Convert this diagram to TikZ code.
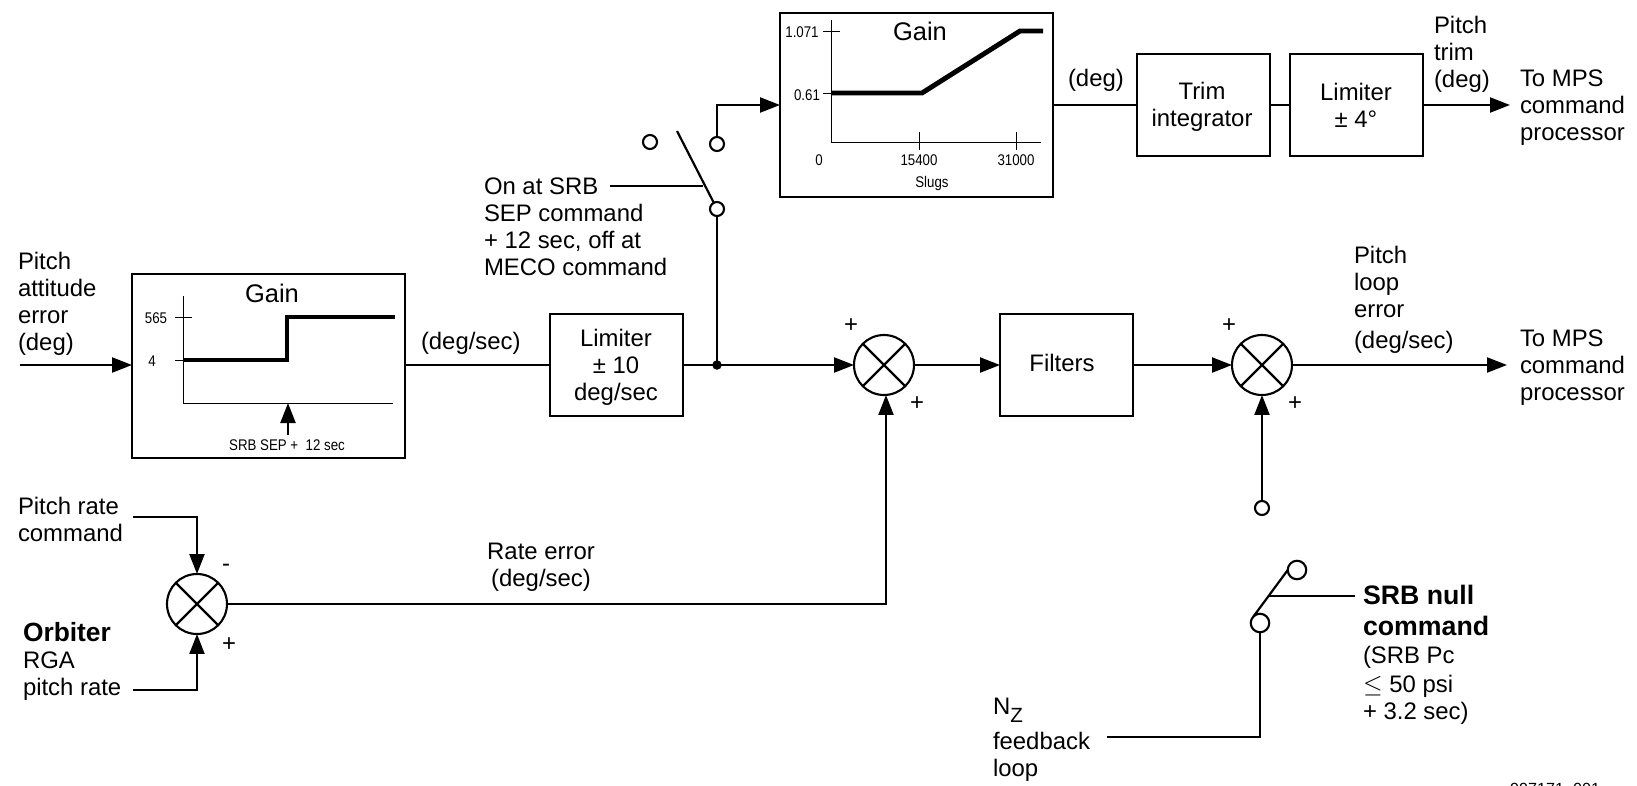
\documentclass[tikz,border=0pt]{standalone}
\usepackage{fontspec}
\setmainfont{Liberation Sans}
\newfontfamily\narrowfont[FakeStretch=0.86]{Liberation Sans}
\usetikzlibrary{arrows.meta}

\tikzset{
plain/.style={inner sep=0pt, outer sep=0pt, align=left},
small/.style={plain, font=\narrowfont\fontsize{8.8}{10}\selectfont},
block/.style={draw, line width=0.7pt, inner sep=0pt, outer sep=0pt, align=center},
sumnode/.style={draw, circle, line width=1.2pt, inner sep=0pt, outer sep=0pt, minimum size=1.2cm},
contact/.style={draw, circle, line width=1.2pt, inner sep=0pt, outer sep=0pt, minimum size=0.28cm},
wire/.style={line width=1.25pt},
flow/.style={wire, -{Triangle[length=0.4cm,width=0.3cm]}},
thin axis/.style={line width=0.5pt},
curve/.style={line width=2.8pt, line join=miter}
}

\begin{document}
\begin{tikzpicture}[x=0.02cm,y=-0.02cm,font=\fontsize{13.6}{15.4}\selectfont]

\useasboundingbox (0,0) rectangle (1637,785);

%%%%%%%%%%%%%%%%%%%%%%%%%%%%%%%%%%%%%%%%%%%%%%%%%%%%%%
% PITCH GAIN BLOCK
%%%%%%%%%%%%%%%%%%%%%%%%%%%%%%%%%%%%%%%%%%%%%%%%%%%%%%

\node[
block,
minimum width=5.46cm,
minimum height=3.68cm
](gainpitch)
at (268.5,366)
{};

\node[plain,font=\fontsize{14.5}{16}\selectfont](gainpitchtitle) at (272,293) {Gain};
\node[small](tickhigh) at (156,318) {565};
\node[small](ticklow) at (152,361) {4};
\node[small](sepnote) at (287,445) {SRB SEP +\ \ 12 sec};

\draw[thin axis] (183,296)--(183,403)--(393,403);
\draw[thin axis] (175,317)--(192,317);
\draw[thin axis] (175,360)--(183,360);
\draw[curve] (183,360)--(287,360)--(287,317)--(395,317);

\coordinate (septail) at (288,435);
\coordinate (sephead) at (288,403);
\draw[flow] (septail)--(sephead);

%%%%%%%%%%%%%%%%%%%%%%%%%%%%%%%%%%%%%%%%%%%%%%%%%%%%%%
% TRIM GAIN BLOCK
%%%%%%%%%%%%%%%%%%%%%%%%%%%%%%%%%%%%%%%%%%%%%%%%%%%%%%

\node[
block,
minimum width=5.46cm,
minimum height=3.68cm
](gaintrim)
at (916.5,105)
{};

\node[plain,font=\fontsize{14.5}{16}\selectfont](gaintrimtitle) at (920,31) {Gain};
\node[small](tickone) at (802,32) {1.071};
\node[small](ticktwo) at (807,95) {0.61};
\node[small](tickzero) at (819,160) {0};
\node[small](tickmid) at (919,160) {15400};
\node[small](tickend) at (1016,160) {31000};
\node[small](slugs) at (932,183) {Slugs};

\draw[thin axis] (831,20)--(831,142)--(1041,142);
\draw[thin axis] (823,31)--(840,31);
\draw[thin axis] (823,93)--(831,93);
\draw[thin axis] (919,132)--(919,150);
\draw[thin axis] (1016,132)--(1016,150);
\draw[curve] (831,93)--(922,93)--(1020,31)--(1043,31);

%%%%%%%%%%%%%%%%%%%%%%%%%%%%%%%%%%%%%%%%%%%%%%%%%%%%%%
% BLOCKS
%%%%%%%%%%%%%%%%%%%%%%%%%%%%%%%%%%%%%%%%%%%%%%%%%%%%%%

\node[
block,
minimum width=2.66cm,
minimum height=2.04cm
](limiter)
at (616.5,365)
{};

\node[plain,align=center](limitertext) at (616,367) {Limiter\\± 10\\deg/sec};

\node[
block,
minimum width=2.66cm,
minimum height=2.04cm
](filters)
at (1066.5,365)
{};

\node[plain](filterstext) at (1062,363) {Filters};

\node[
block,
minimum width=2.66cm,
minimum height=2.04cm
](trim)
at (1203.5,105)
{};

\node[plain,align=center](trimtext) at (1202,107) {Trim\\integrator};

\node[
block,
minimum width=2.66cm,
minimum height=2.04cm
](limtrim)
at (1356.5,105)
{};

\node[plain,align=center](limtrimtext) at (1356,105) {Limiter\\± 4°};

%%%%%%%%%%%%%%%%%%%%%%%%%%%%%%%%%%%%%%%%%%%%%%%%%%%%%%
% SUMMING JUNCTIONS
%%%%%%%%%%%%%%%%%%%%%%%%%%%%%%%%%%%%%%%%%%%%%%%%%%%%%%

\node[sumnode](sumrate) at (197,604) {};
\node[sumnode](sumloop) at (884,365) {};
\node[sumnode](sumout) at (1262,365) {};

\foreach \s in {sumrate,sumloop,sumout}{
\draw[wire] (\s.north east)--(\s.south west);
\draw[wire] (\s.north west)--(\s.south east);
}

\node[plain](minusrate) at (226,568) {-};
\node[plain](plusrate) at (229,645) {+};
\node[plain](plusloopa) at (851,326) {+};
\node[plain](plusloopb) at (917,404) {+};
\node[plain](plusouta) at (1229,326) {+};
\node[plain](plusoutb) at (1295,404) {+};

%%%%%%%%%%%%%%%%%%%%%%%%%%%%%%%%%%%%%%%%%%%%%%%%%%%%%%
% SWITCHES
%%%%%%%%%%%%%%%%%%%%%%%%%%%%%%%%%%%%%%%%%%%%%%%%%%%%%%

\node[contact](swopen) at (650,142) {};
\node[contact](swclosed) at (717,144) {};
\node[contact](swpivot) at (717,209) {};
\node[fill,circle,inner sep=0pt,minimum size=0.19cm](branch) at (717,365) {};

\coordinate (bladetop) at (677,131);
\draw[wire] (bladetop)--(swpivot);

\node[contact,minimum size=0.37cm](nullupper) at (1297,570) {};
\node[contact,minimum size=0.37cm](nullpivot) at (1260,623) {};
\node[contact](trimend) at (1262,508) {};

\draw[wire] (nullpivot.135)--(nullupper.180);

%%%%%%%%%%%%%%%%%%%%%%%%%%%%%%%%%%%%%%%%%%%%%%%%%%%%%%
% LABELS
%%%%%%%%%%%%%%%%%%%%%%%%%%%%%%%%%%%%%%%%%%%%%%%%%%%%%%

\node[plain,anchor=west](attitude) at (18,304) {Pitch\\attitude\\error\\(deg)};
\node[plain,anchor=west](degsecgain) at (421,343) {(deg/sec)};
\node[plain,anchor=west](swnote) at (484,227) {On at SRB\\SEP command\\+ 12 sec, off at\\MECO command};
\node[plain,anchor=west](degtop) at (1068,80) {(deg)};
\node[plain,anchor=west](pitchtrim) at (1434,54) {Pitch\\trim\\(deg)};
\node[plain,anchor=west](mpstop) at (1520,108) {To MPS\\command\\processor};
\node[plain,anchor=west](looperror) at (1354,282) {Pitch\\loop\\error};
\node[plain,anchor=west](degsecloop) at (1354,342) {(deg/sec)};
\node[plain,anchor=west](mpslow) at (1520,368) {To MPS\\command\\processor};
\node[plain,anchor=west](ratecmd) at (18,519) {Pitch rate\\command};
\node[plain,anchor=west](orbiter) at (23,661.5) {{\bfseries\fontsize{15}{15.4}\selectfont Orbiter}\\RGA\\pitch rate};
\node[plain,align=center](rateerror) at (541,567) {Rate error\\(deg/sec)};
\node[plain,anchor=west](nullcmd) at (1363,655) {{\bfseries\fontsize{15.2}{17}\selectfont SRB null}\\[2pt]{\bfseries\fontsize{15.2}{17}\selectfont command}\\[1pt](SRB Pc\\[1pt]$\leq$ 50 psi\\+ 3.2 sec)};
\node[plain,anchor=west](nzloop) at (993,740) {N\raisebox{-4.5pt}{\fontsize{11.7}{12}\selectfont Z}\\[4.5pt]feedback\\loop};
\node[plain,anchor=north east,font=\fontsize{9.2}{10}\selectfont](drawingid) at (1600,783) {997171\_001};

%%%%%%%%%%%%%%%%%%%%%%%%%%%%%%%%%%%%%%%%%%%%%%%%%%%%%%
% LINES
%%%%%%%%%%%%%%%%%%%%%%%%%%%%%%%%%%%%%%%%%%%%%%%%%%%%%%

\coordinate (attitudein) at (20,365);
\coordinate (trimout) at (1510,105);
\coordinate (loopout) at (1507,365);
\coordinate (swlever) at (703,186);
\coordinate (swleverend) at (610,186);

\draw[flow] (attitudein)--(attitudein-|gainpitch.west);
\draw[wire] (limiter.west-|gainpitch.east)--(limiter.west);
\draw[flow] (limiter.east)--(sumloop.west);
\draw[flow] (sumloop.east)--(filters.west);
\draw[flow] (filters.east)--(sumout.west);
\draw[flow] (sumout.east)--(loopout);
\draw[wire] (branch.center)--(swpivot);
\draw[flow] (swclosed.north)|-(gaintrim.west);
\draw[wire] (swleverend)--(swlever);
\draw[wire] (gaintrim.east)--(trim.west);
\draw[wire] (trim.east)--(limtrim.west);
\draw[flow] (limtrim.east)--(trimout);
\draw[flow] (trimend)--(sumout.south);
\draw[flow] (sumrate.east)-|([xshift=0.04cm]sumloop.south);

\coordinate (ratecmdend) at (133,517);
\coordinate (rgaend) at (133,690);
\draw[flow] (ratecmdend)-|(sumrate.north);
\draw[flow] (rgaend)-|(sumrate.south);

\coordinate (nullend) at (1355,596);
\coordinate (nullbranch) at (1268,596);
\coordinate (nzend) at (1107,737);
\draw[wire] (nullbranch)--(nullend);
\draw[wire] (nzend)-|(nullpivot.south);

\end{tikzpicture}
\end{document}
